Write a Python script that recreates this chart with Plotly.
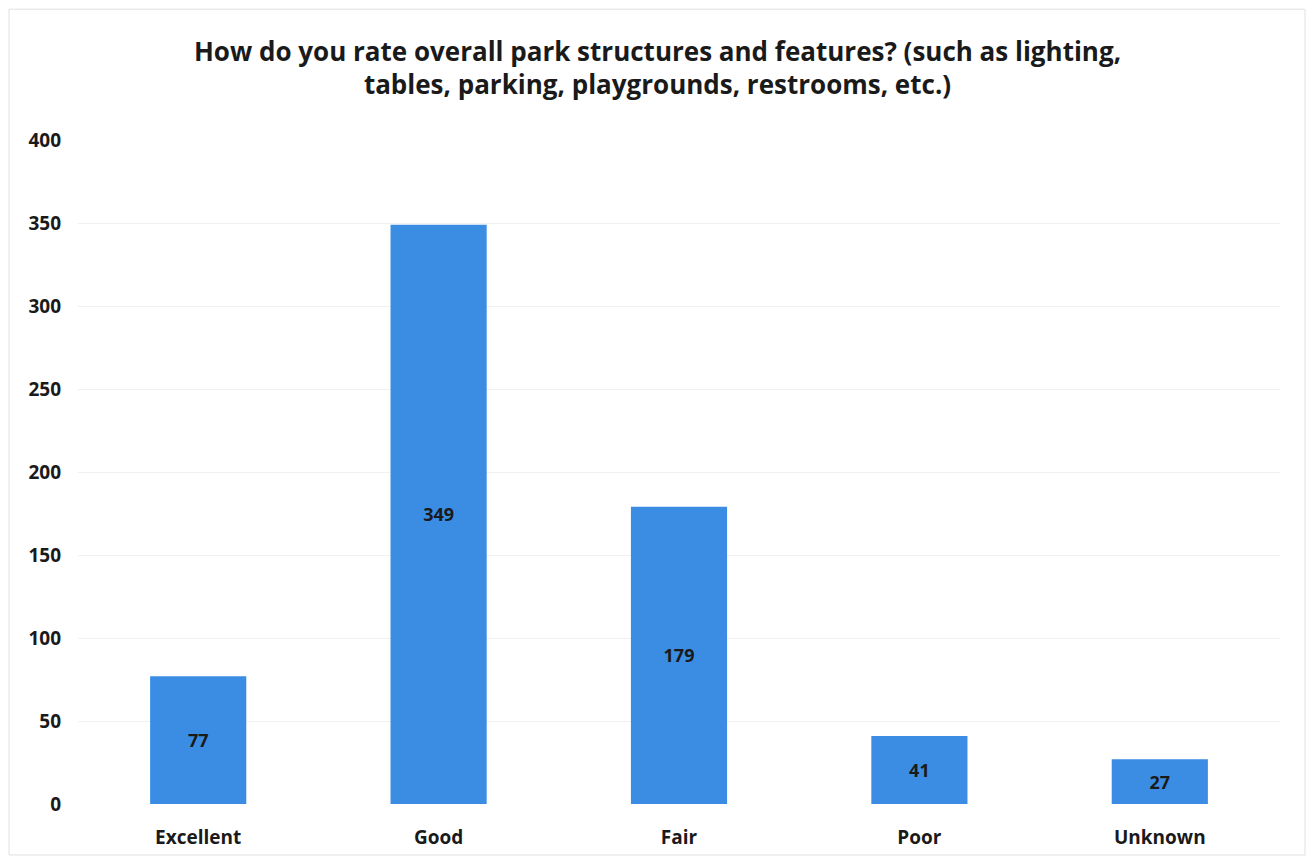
import plotly.graph_objects as go

# Datos
categorias = ["Excellent", "Good", "Fair", "Poor", "Unknown"]
respuestas = [77, 349, 179, 41, 27]
ticks_y = [0, 50, 100, 150, 200, 250, 300, 350, 400]

titulo = ("How do you rate overall park structures and features? (such as lighting,"
          "<br>tables, parking, playgrounds, restrooms, etc.)")

fig = go.Figure()
fig.add_trace(go.Bar(
    x=categorias,
    y=respuestas,
    text=[str(v) for v in respuestas],
    textposition="inside",
    insidetextanchor="middle",
    textfont=dict(family="Open Sans", size=18, color="#1a1a1a", weight="bold"),
    marker=dict(color="#3a8de3", line=dict(width=0)),
    width=0.4,
))

fig.update_layout(
    width=1299,
    height=849,
    paper_bgcolor="white",
    plot_bgcolor="white",
    font=dict(family="Open Sans", color="#1a1a1a"),
    title=dict(
        text=titulo,
        x=0.5,
        xanchor="center",
        y=0.938,
        yanchor="top",
        font=dict(family="Open Sans", size=26, color="#1a1a1a", weight="bold"),
    ),
    margin=dict(l=70, r=27, t=132, b=53),
    showlegend=False,
    xaxis=dict(
        showgrid=False,
        showline=False,
        ticks="",
        ticklabelstandoff=20,
        tickfont=dict(size=19, weight="bold"),
        automargin=False,
    ),
    yaxis=dict(
        range=[0, 400],
        tickvals=ticks_y,
        showgrid=True,
        gridcolor="#f1f1f1",
        gridwidth=1,
        zeroline=False,
        showline=False,
        ticks="",
        ticklabelstandoff=16,
        tickfont=dict(size=19, weight="bold"),
        automargin=False,
    ),
    shapes=[dict(type="rect", xref="paper", yref="paper", x0=-0.0574, x1=1.0208, y0=-0.0768, y1=1.197,
                 line=dict(color="#e0e0e0", width=1))],
)

fig.write_html("out.html")
